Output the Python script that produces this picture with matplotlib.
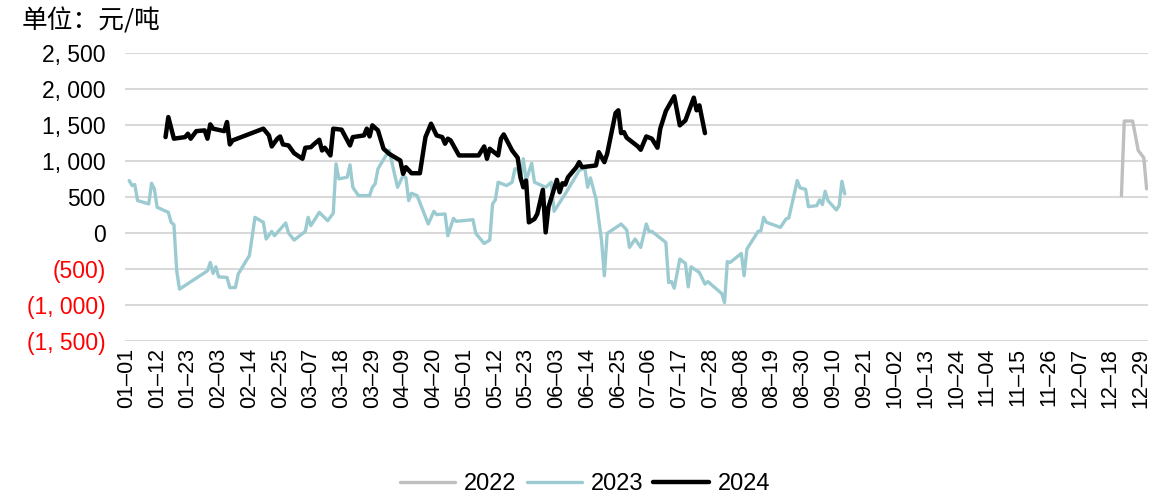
import datetime as dt
import matplotlib
matplotlib.use("Agg")
import matplotlib.pyplot as plt
from matplotlib.ticker import FixedLocator, FuncFormatter

# ---- data (x = day of year, 0 = Jan 1; values in 元/吨) ----
days_2022 = [356, 357, 360, 362, 364, 365]
vals_2022 = [520, 1555, 1555, 1146, 1045, 613]

days_2023 = [1, 2, 3, 4, 8, 9, 10, 11, 15, 16, 17, 18, 19, 29, 30, 31, 32, 33, 36, 37,
             39, 40, 43, 44, 46, 49, 50, 52, 53, 54, 57, 58, 60, 64, 65, 66, 69, 72, 74, 75,
             76, 79, 80, 81, 83, 87, 88, 89, 90, 94, 97, 99, 100, 101, 102, 104, 108, 110, 111, 114,
             115, 117, 118, 124, 125, 128, 130, 131, 132, 133, 136, 138, 139, 140, 141, 142, 143, 145, 146, 150,
             152, 153, 157, 162, 164, 165, 166, 168, 170, 171, 172, 177, 179, 180, 182, 184, 186, 187, 188, 193,
             194, 195, 196, 198, 200, 201, 202, 205, 207, 208, 213, 214, 215, 216, 220, 221, 222, 226, 227, 228,
             229, 234, 236, 237, 240, 241, 243, 244, 247, 248, 249, 250, 251, 254, 255, 256, 257]
vals_2023 = [728, 659, 673, 450, 404, 691, 613, 357, 287, 148, 116, -525, -780, -525, -409, -562, -469, -609, -618, -758,
             -758, -571, -376, -316, 217, 148, -84, 22, -38, 8, 139, 0, -98, 22, 217, 102, 287, 171, 273, 961,
             752, 775, 947, 635, 520, 520, 635, 682, 891, 1150, 635, 798, 766, 450, 552, 520, 125, 301, 255, 265,
             -38, 203, 162, 185, -6, -145, -98, 404, 460, 705, 659, 705, 891, 891, 728, 1031, 728, 970, 705, 635,
             705, 301, 543, 868, 905, 635, 766, 474, -107, -595, -6, 125, 42, -200, -84, -200, 125, 22, 22, -131,
             -688, -674, -766, -362, -423, -748, -469, -549, -710, -674, -841, -967, -396, -409, -284, -595, -223, 22, 32, 217,
             148, 78, 195, 209, 728, 627, 607, 366, 380, 460, 394, 580, 450, 320, 380, 719, 543]

days_2024 = [14, 15, 17, 21, 22, 23, 25, 28, 29, 30, 31, 35, 36, 37, 38, 49, 51, 52, 54, 55,
             56, 58, 60, 63, 64, 66, 67, 69, 70, 71, 73, 74, 77, 80, 81, 85, 86, 87, 88, 90,
             92, 94, 98, 99, 100, 102, 105, 107, 109, 110, 111, 113, 114, 115, 116, 119, 126, 128, 129, 130,
             133, 134, 135, 136, 138, 140, 141, 142, 143, 144, 146, 147, 149, 150, 151, 154, 155, 156, 157, 158,
             161, 162, 163, 168, 169, 171, 172, 175, 176, 177, 178, 179, 183, 184, 186, 188, 190, 191, 193, 196,
             198, 200, 203, 204, 205, 207]
vals_2024 = [1332, 1610, 1310, 1332, 1379, 1310, 1415, 1425, 1310, 1509, 1449, 1415, 1541, 1230, 1286, 1449, 1355, 1202, 1310, 1341,
             1230, 1216, 1109, 1031, 1184, 1192, 1230, 1295, 1146, 1184, 1077, 1449, 1435, 1216, 1332, 1355, 1449, 1341, 1495, 1425,
             1170, 1100, 1007, 822, 914, 830, 830, 1332, 1518, 1435, 1355, 1332, 1240, 1310, 1286, 1077, 1077, 1202, 1031, 1170,
             1077, 1310, 1369, 1295, 1146, 1045, 775, 635, 728, 148, 195, 265, 599, 8, 357, 738, 566, 691, 673, 775,
             914, 984, 914, 938, 1123, 984, 1100, 1666, 1704, 1387, 1401, 1323, 1202, 1156, 1341, 1310, 1184, 1449, 1694, 1899,
             1495, 1564, 1880, 1704, 1773, 1387]

series_names = ["2022", "2023", "2024"]
series_colors = ["#BFBFBF", "#9BCBD1", "#000000"]
series_widths = [2.4, 2.4, 3.2]

unit_label = "单位：元/吨"
y_ticks = [-1500, -1000, -500, 0, 500, 1000, 1500, 2000, 2500]
x_tick_days = list(range(0, 364, 11))

# ---- figure ----
plt.rcParams['font.family'] = ['Liberation Sans', 'Noto Sans CJK SC', 'DejaVu Sans']
fig = plt.figure(figsize=(11.71, 4.97), dpi=100)
ax = fig.add_axes([125 / 1171, 1 - 341 / 497, (1148 - 125) / 1171, (341 - 53) / 497])

all_days = [days_2022, days_2023, days_2024]
all_vals = [vals_2022, vals_2023, vals_2024]
for d, v, name, c, w in zip(all_days, all_vals, series_names, series_colors, series_widths):
    ax.plot(d, v, color=c, lw=w, label=name, solid_joinstyle='round', solid_capstyle='round')

ax.set_xlim(-0.5, 365.5)
ax.set_ylim(-1500, 2500)

ax.yaxis.set_major_locator(FixedLocator(y_ticks))

def yfmt(v, pos):
    s = "{:,}".format(int(abs(v))).replace(",", ", ")
    return "(" + s + ")" if v < 0 else s

ax.yaxis.set_major_formatter(FuncFormatter(yfmt))

base = dt.date(2024, 1, 1)
x_labels = [(base + dt.timedelta(days=d)).strftime("%m–%d") for d in x_tick_days]
ax.set_xticks(x_tick_days)
ax.set_xticklabels(x_labels, rotation=90, fontsize=15.5)

ax.tick_params(axis='y', labelsize=16.5, length=0, pad=14)
ax.tick_params(axis='x', length=0, pad=5)
fig.canvas.draw()
for lab in ax.get_yticklabels():
    if lab.get_text().startswith("("):
        lab.set_color("red")

ax.grid(axis='y', color='#D9D9D9', lw=1.5)
ax.set_axisbelow(True)
for sp in ax.spines.values():
    sp.set_visible(False)

fig.text(22 / 1171, 1 - 21 / 497, unit_label, fontsize=18.5, va='center', ha='left',
         family=['Noto Sans CJK SC', 'DejaVu Sans'])

leg = fig.legend(loc='center', bbox_to_anchor=(585 / 1171, 1 - 484 / 497), ncol=3, frameon=False,
                 fontsize=17, handlelength=2.35, columnspacing=0.42, handletextpad=0.38)

fig.savefig("out.png", dpi=100)
